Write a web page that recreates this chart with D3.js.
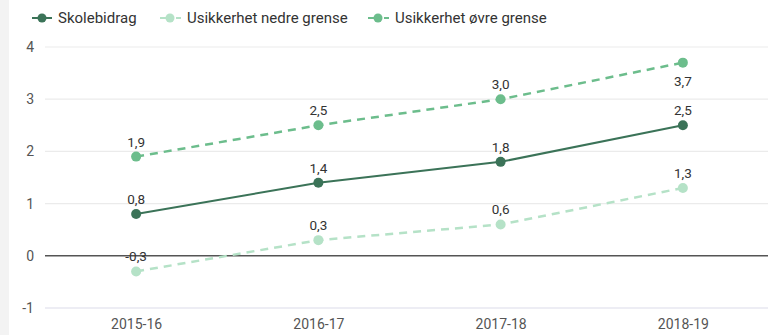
<!DOCTYPE html>
<html><head><meta charset="utf-8">
<script src="https://cdn.jsdelivr.net/npm/d3@7"></script>
<style>
body{margin:0;background:#fff;}
svg{display:block;font-family:Roboto, "Noto Sans", sans-serif;}
</style></head><body>
<svg id="c" width="768" height="335"></svg>
<script>
const categories = ["2015-16","2016-17","2017-18","2018-19"];
const skolebidrag = [0.8, 1.4, 1.8, 2.5];
const nedre = [-0.3, 0.3, 0.6, 1.3];
const ovre = [1.9, 2.5, 3.0, 3.7];
const yTicks = [-1, 0, 1, 2, 3, 4];
const seriesNames = ["Skolebidrag","Usikkerhet nedre grense","Usikkerhet øvre grense"];

const svg = d3.select("#c");
svg.append("rect").attr("x",0).attr("y",0).attr("width",9).attr("height",335).attr("fill","#f3f3f3");

const x = d3.scalePoint().domain(categories).range([45, 774]).padding(0.5);
const y = d3.scaleLinear().domain([-1, 4]).range([308, 47]);

const fmt = v => d3.format(".1f")(v).replace(".", ",").replace("−","-");

// grid
svg.append("g").selectAll("line").data(yTicks).join("line")
  .attr("x1",45).attr("x2",768)
  .attr("y1",d=>y(d)).attr("y2",d=>y(d))
  .attr("stroke",d=>d===0?"#555":(d===-1?"#dcdcea":"#ebebeb"))
  .attr("stroke-width",d=>d===0?1.5:1.2);

// y axis labels
const yAxis = d3.axisLeft(y).tickValues(yTicks).tickSize(0).tickPadding(0).tickFormat(d=>String(d));
const ya = svg.append("g").attr("transform","translate(34,0)").call(yAxis);
ya.select(".domain").remove();
ya.selectAll("text").attr("fill","#555").attr("font-size",14).attr("font-family","Roboto");

// x axis labels
const xAxis = d3.axisBottom(x).tickSize(0).tickPadding(0);
const xa = svg.append("g").attr("transform","translate(0,319)").call(xAxis);
xa.select(".domain").remove();
xa.selectAll("text").attr("fill","#555").attr("font-size",14).attr("font-family","Roboto");

const series = [
  {name:seriesNames[0], values:skolebidrag, color:"#3b7358", dash:null, width:2},
  {name:seriesNames[1], values:nedre, color:"#b5e2c7", dash:"8,6", width:2.5},
  {name:seriesNames[2], values:ovre, color:"#6cbd8c", dash:"8,6", width:2.5}
];

const line = d3.line().x((d,i)=>x(categories[i])).y(d=>y(d));

series.forEach((s,si)=>{
  svg.append("path").datum(s.values).attr("d",line)
    .attr("fill","none").attr("stroke",s.color).attr("stroke-width",s.width)
    .attr("stroke-dasharray",s.dash);
  svg.append("g").selectAll("circle").data(s.values).join("circle")
    .attr("cx",(d,i)=>x(categories[i])).attr("cy",d=>y(d)).attr("r",5)
    .attr("fill",s.color);
  svg.append("g").selectAll("text").data(s.values).join("text")
    .attr("x",(d,i)=>x(categories[i]))
    .attr("y",(d,i)=> (si===2 && i===3) ? y(d)+23 : y(d)-10)
    .attr("text-anchor","middle").attr("font-size",13.5).attr("fill","#333")
    .text(d=>fmt(d));
});

// legend
const legX = [32, 160, 368];
series.forEach((s,i)=>{
  const g = svg.append("g").attr("transform",`translate(${legX[i]},18)`);
  if (s.dash) {
    g.append("line").attr("x1",0).attr("x2",6).attr("stroke",s.color).attr("stroke-width",2);
    g.append("line").attr("x1",16).attr("x2",21).attr("stroke",s.color).attr("stroke-width",2);
  } else {
    g.append("line").attr("x1",0).attr("x2",20).attr("stroke",s.color).attr("stroke-width",2);
  }
  g.append("circle").attr("cx",10).attr("cy",0).attr("r",4.5).attr("fill",s.color);
  g.append("text").attr("x",i===0?26:27).attr("y",5).attr("font-size",15).attr("fill","#333").text(s.name);
});
</script>
</body></html>
